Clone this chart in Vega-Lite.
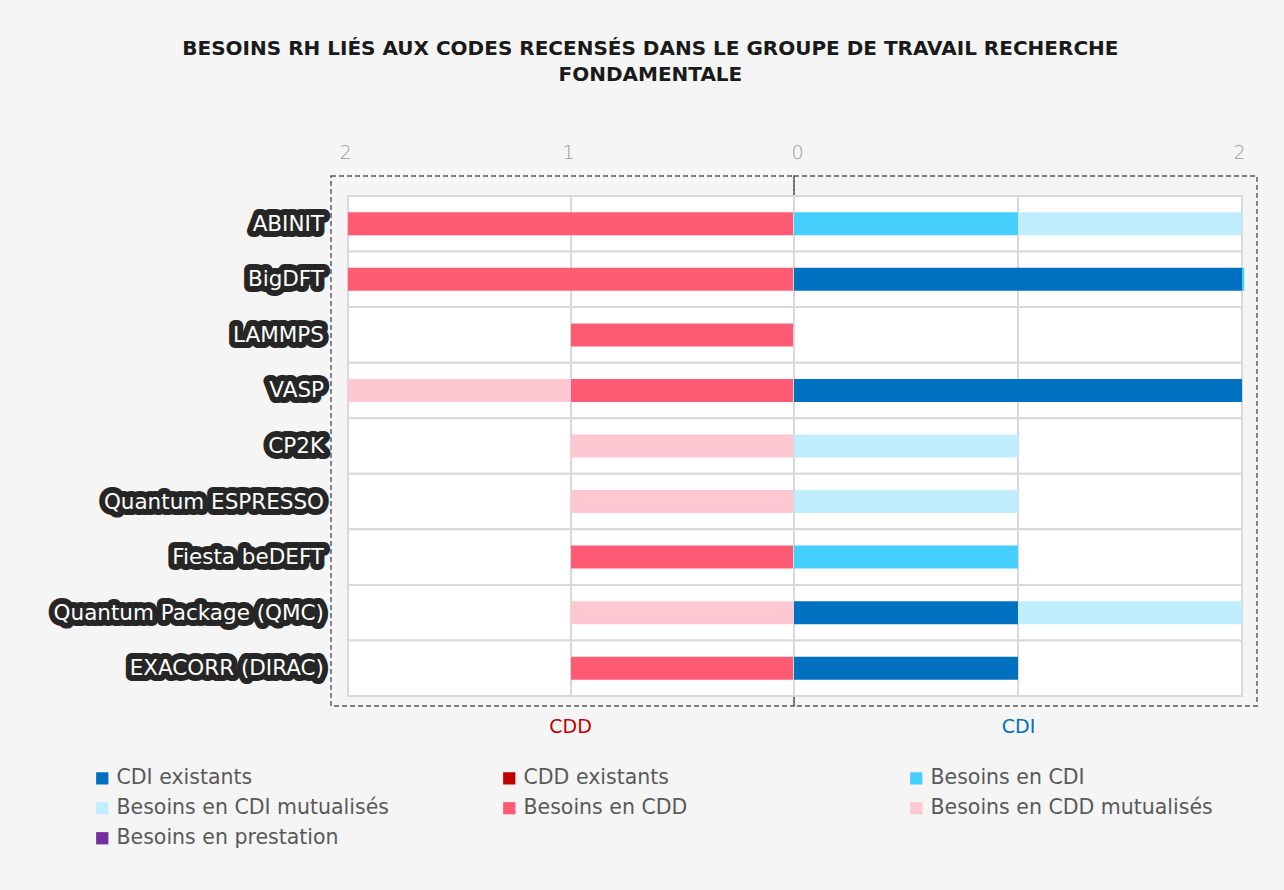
{
  "$schema": "https://vega.github.io/schema/vega-lite/v6.json",
  "background": "#f5f5f5",
  "padding": {"left": 5, "top": 39, "right": 27, "bottom": 48},
  "bounds": "flush",
  "spacing": 0,
  "title": {
    "text": ["BESOINS RH LIÉS AUX CODES RECENSÉS DANS LE GROUPE DE TRAVAIL RECHERCHE", "FONDAMENTALE"],
    "font": "DejaVu Sans",
    "fontSize": 20,
    "fontWeight": "bold",
    "color": "#1a1a1a",
    "lineHeight": 26,
    "anchor": "middle",
    "dx": 19,
    "offset": 57
  },
  "datasets": {
    "needs": [
      {"code": "ABINIT", "side": "CDD", "type": "Besoins en CDD", "value": 2},
      {"code": "ABINIT", "side": "CDI", "type": "Besoins en CDI", "value": 1},
      {"code": "ABINIT", "side": "CDI", "type": "Besoins en CDI mutualisés", "value": 1},
      {"code": "BigDFT", "side": "CDD", "type": "Besoins en CDD", "value": 2},
      {"code": "BigDFT", "side": "CDI", "type": "CDI existants", "value": 2},
      {"code": "BigDFT", "side": "CDI", "type": "Besoins en CDI", "value": 0.01},
      {"code": "LAMMPS", "side": "CDD", "type": "Besoins en CDD", "value": 1},
      {"code": "VASP", "side": "CDD", "type": "Besoins en CDD", "value": 1},
      {"code": "VASP", "side": "CDD", "type": "Besoins en CDD mutualisés", "value": 1},
      {"code": "VASP", "side": "CDI", "type": "CDI existants", "value": 2},
      {"code": "CP2K", "side": "CDD", "type": "Besoins en CDD mutualisés", "value": 1},
      {"code": "CP2K", "side": "CDI", "type": "Besoins en CDI mutualisés", "value": 1},
      {"code": "Quantum ESPRESSO", "side": "CDD", "type": "Besoins en CDD mutualisés", "value": 1},
      {"code": "Quantum ESPRESSO", "side": "CDI", "type": "Besoins en CDI mutualisés", "value": 1},
      {"code": "Fiesta beDEFT", "side": "CDD", "type": "Besoins en CDD", "value": 1},
      {"code": "Fiesta beDEFT", "side": "CDI", "type": "Besoins en CDI", "value": 1},
      {"code": "Quantum Package (QMC)", "side": "CDD", "type": "Besoins en CDD mutualisés", "value": 1},
      {"code": "Quantum Package (QMC)", "side": "CDI", "type": "CDI existants", "value": 1},
      {"code": "Quantum Package (QMC)", "side": "CDI", "type": "Besoins en CDI mutualisés", "value": 1},
      {"code": "EXACORR (DIRAC)", "side": "CDD", "type": "Besoins en CDD", "value": 1},
      {"code": "EXACORR (DIRAC)", "side": "CDI", "type": "CDI existants", "value": 1}
    ],
    "types": [
      {"type": "CDI existants", "rank": 1},
      {"type": "CDD existants", "rank": 2},
      {"type": "Besoins en CDI", "rank": 3},
      {"type": "Besoins en CDI mutualisés", "rank": 4},
      {"type": "Besoins en CDD", "rank": 5},
      {"type": "Besoins en CDD mutualisés", "rank": 6},
      {"type": "Besoins en prestation", "rank": 7}
    ],
    "codes": [
      {"code": "ABINIT"}, {"code": "BigDFT"}, {"code": "LAMMPS"}, {"code": "VASP"}, {"code": "CP2K"},
      {"code": "Quantum ESPRESSO"}, {"code": "Fiesta beDEFT"}, {"code": "Quantum Package (QMC)"}, {"code": "EXACORR (DIRAC)"}
    ]
  },
  "resolve": {"scale": {"color": "shared", "x": "independent", "y": "independent"}, "legend": {"color": "shared"}},
  "hconcat": [
    {
      "width": 326,
      "height": 530,
      "view": {"stroke": null},
      "data": {"name": "codes"},
      "encoding": {
        "y": {"field": "code", "type": "nominal", "axis": null,
          "scale": {"type": "band", "domain": ["ABINIT", "BigDFT", "LAMMPS", "VASP", "CP2K", "Quantum ESPRESSO", "Fiesta beDEFT", "Quantum Package (QMC)", "EXACORR (DIRAC)"], "paddingInner": 0, "paddingOuter": 0.27, "align": 0.667}},
        "text": {"field": "code"}
      },
      "layer": [
        {"mark": {"type": "text", "x": "width", "align": "right", "baseline": "middle", "dx": -7, "dy": 1, "font": "DejaVu Sans", "fontSize": 21.5, "fill": "#262626", "stroke": "#262626", "strokeWidth": 12, "strokeJoin": "round"}},
        {"mark": {"type": "text", "x": "width", "align": "right", "baseline": "middle", "dx": -7, "dy": 1, "font": "DejaVu Sans", "fontSize": 21.5, "fill": "#ffffff"}}
      ]
    },
    {
      "width": 463,
      "height": 530,
      "title": {"text": "CDD", "orient": "bottom", "color": "#c00000", "font": "DejaVu Sans", "fontSize": 19, "fontWeight": "normal", "offset": 12, "dx": 8},
      "layer": [
        {
          "data": {"name": "codes"},
          "mark": {"type": "rect", "fill": "#ffffff", "stroke": "#d9d9d9", "strokeWidth": 2},
          "encoding": {
            "y": {"field": "code", "type": "nominal", "axis": null,
              "scale": {"domain": ["ABINIT", "BigDFT", "LAMMPS", "VASP", "CP2K", "Quantum ESPRESSO", "Fiesta beDEFT", "Quantum Package (QMC)", "EXACORR (DIRAC)"], "paddingInner": 0, "paddingOuter": 0.27, "align": 0.667}},
            "x": {"datum": 0, "type": "quantitative",
              "scale": {"domain": [0, 2.076], "reverse": true, "nice": false, "zero": true},
              "axis": {"orient": "top", "values": [1, 2], "format": "d", "title": null, "grid": false, "domain": false, "ticks": false, "labelColor": "#999999", "labelFont": "DejaVu Sans", "labelFontSize": 19, "labelFontWeight": 300, "labelPadding": 14, "labelOffset": -3}},
            "x2": {"datum": 1}
          }
        },
        {
          "data": {"name": "codes"},
          "mark": {"type": "rect", "fill": "#ffffff", "stroke": "#d9d9d9", "strokeWidth": 2},
          "encoding": {
            "y": {"field": "code", "type": "nominal"},
            "x": {"datum": 1, "type": "quantitative"},
            "x2": {"datum": 2}
          }
        },
        {
          "data": {"name": "needs"},
          "transform": [
            {"filter": "datum.side === 'CDD'"},
            {"lookup": "type", "from": {"data": {"name": "types"}, "key": "type", "fields": ["rank"]}}
          ],
          "mark": {"type": "bar", "size": 23},
          "encoding": {
            "y": {"field": "code", "type": "nominal"},
            "x": {"field": "value", "type": "quantitative", "stack": "zero"},
            "order": {"field": "rank", "type": "quantitative", "sort": "ascending"},
            "color": {"field": "type", "type": "nominal",
              "scale": {"domain": ["CDI existants", "CDD existants", "Besoins en CDI", "Besoins en CDI mutualisés", "Besoins en CDD", "Besoins en CDD mutualisés", "Besoins en prestation"],
                "range": ["#0070c0", "#c00000", "#45cfff", "#c1eeff", "#ff5a73", "#ffc7d1", "#7030a0"]},
              "legend": {"orient": "none", "legendX": 87, "legendY": 592, "direction": "horizontal", "columns": 3, "gridAlign": "all", "columnPadding": 100, "rowPadding": 9, "symbolType": "square", "symbolSize": 150, "symbolStrokeWidth": 0, "labelFont": "DejaVu Sans", "labelFontSize": 20.5, "labelColor": "#595959", "labelOffset": 4, "labelLimit": 400, "title": null}}
          }
        }
      ]
    },
    {
      "width": 463,
      "height": 530,
      "title": {"text": "CDI", "orient": "bottom", "color": "#0070c0", "font": "DejaVu Sans", "fontSize": 19, "fontWeight": "normal", "offset": 12, "dx": -7},
      "layer": [
        {
          "data": {"name": "codes"},
          "mark": {"type": "rect", "fill": "#ffffff", "stroke": "#d9d9d9", "strokeWidth": 2},
          "encoding": {
            "y": {"field": "code", "type": "nominal", "axis": null,
              "scale": {"domain": ["ABINIT", "BigDFT", "LAMMPS", "VASP", "CP2K", "Quantum ESPRESSO", "Fiesta beDEFT", "Quantum Package (QMC)", "EXACORR (DIRAC)"], "paddingInner": 0, "paddingOuter": 0.27, "align": 0.667}},
            "x": {"datum": 0, "type": "quantitative",
              "scale": {"domain": [0, 2.067], "nice": false, "zero": true},
              "axis": {"orient": "top", "values": [0, 1, 2], "format": "d", "title": null, "grid": false, "domain": false, "ticks": false, "labelColor": "#999999", "labelFont": "DejaVu Sans", "labelFontSize": 19, "labelFontWeight": 300, "labelPadding": 14, "labelOffset": -3}},
            "x2": {"datum": 1}
          }
        },
        {
          "data": {"name": "codes"},
          "mark": {"type": "rect", "fill": "#ffffff", "stroke": "#d9d9d9", "strokeWidth": 2},
          "encoding": {
            "y": {"field": "code", "type": "nominal"},
            "x": {"datum": 1, "type": "quantitative"},
            "x2": {"datum": 2}
          }
        },
        {
          "data": {"name": "needs"},
          "transform": [
            {"filter": "datum.side === 'CDI'"},
            {"lookup": "type", "from": {"data": {"name": "types"}, "key": "type", "fields": ["rank"]}}
          ],
          "mark": {"type": "bar", "size": 23},
          "encoding": {
            "y": {"field": "code", "type": "nominal"},
            "x": {"field": "value", "type": "quantitative", "stack": "zero"},
            "order": {"field": "rank", "type": "quantitative", "sort": "ascending"},
            "color": {"field": "type", "type": "nominal",
              "scale": {"domain": ["CDI existants", "CDD existants", "Besoins en CDI", "Besoins en CDI mutualisés", "Besoins en CDD", "Besoins en CDD mutualisés", "Besoins en prestation"],
                "range": ["#0070c0", "#c00000", "#45cfff", "#c1eeff", "#ff5a73", "#ffc7d1", "#7030a0"]}}
          }
        }
      ]
    }
  ],
  "config": {
    "font": "DejaVu Sans",
    "view": {"stroke": "#595959", "strokeDash": [5, 3], "strokeWidth": 1.5, "fill": null}
  }
}
